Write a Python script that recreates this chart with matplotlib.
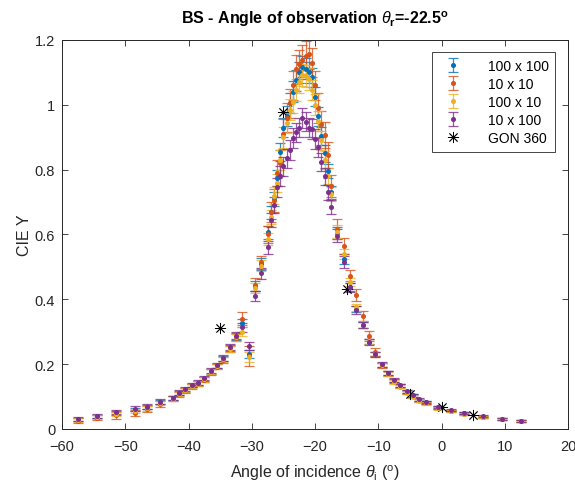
import matplotlib
matplotlib.use('agg')
import matplotlib.pyplot as plt

plt.rcParams['font.family'] = ['Liberation Sans', 'DejaVu Sans']
plt.rcParams['mathtext.fontset'] = 'custom'
plt.rcParams['mathtext.rm'] = 'Liberation Sans'
plt.rcParams['mathtext.it'] = 'Liberation Sans:italic'
plt.rcParams['mathtext.bf'] = 'Liberation Sans:bold'

# Angles of incidence (deg), shared by the four camera series
angles = [-57.5, -54.5, -51.5, -48.5, -46.5, -44.5,
          -42.5, -41.5, -40.5, -39.5, -38.5, -37.5, -36.5, -35.5,
          -34.5, -33.5, -32.5, -31.5, -30.5, -29.5, -28.5, -27.5,
          -27, -26.5, -26, -25.5, -25, -24.5, -24, -23.5, -23, -22.5,
          -22, -21.5, -21, -20.5, -20, -19.5, -19, -18.5, -18, -17.5,
          -16.5, -15.5, -14.5, -13.5, -12.5, -11.5, -10.5, -9.5, -8.5,
          -7.5, -6.5, -5.5, -4.5, -3.5, -2.5,
          -0.5, 1.5, 3.5, 6.5, 9.5, 12.5]

y_100x100 = [0.030, 0.039, 0.050, 0.060, 0.067, 0.082,
             0.095, 0.110, 0.121, 0.134, 0.141, 0.155, 0.178, 0.194,
             0.217, 0.250, 0.285, 0.328, 0.232, 0.440, 0.509, 0.607,
             0.668, 0.710, 0.775, 0.855, 0.930, 0.965, 1.005, 1.040, 1.075, 1.100,
             1.118, 1.112, 1.100, 1.085, 1.025, 0.964, 0.905, 0.850, 0.795, 0.730,
             0.605, 0.525, 0.437, 0.370, 0.321, 0.269, 0.231, 0.198, 0.173,
             0.149, 0.134, 0.115, 0.103, 0.090, 0.082,
             0.067, 0.057, 0.048, 0.038, 0.031, 0.025]
e_100x100 = [0.005, 0.005, 0.006, 0.006, 0.006, 0.006,
             0.006, 0.006, 0.006, 0.006, 0.006, 0.006, 0.007, 0.007,
             0.008, 0.008, 0.010, 0.012, 0.012, 0.015, 0.018, 0.020,
             0.020, 0.022, 0.025, 0.028, 0.030, 0.030, 0.030, 0.032, 0.032, 0.032,
             0.032, 0.032, 0.032, 0.030, 0.030, 0.030, 0.028, 0.025, 0.022, 0.020,
             0.018, 0.015, 0.012, 0.010, 0.009, 0.008, 0.007, 0.006, 0.006,
             0.005, 0.005, 0.005, 0.004, 0.004, 0.004,
             0.004, 0.003, 0.003, 0.003, 0.003, 0.003]

y_10x10 = [0.026, 0.035, 0.042, 0.050, 0.062, 0.077,
           0.093, 0.107, 0.119, 0.132, 0.140, 0.152, 0.176, 0.192,
           0.213, 0.247, 0.282, 0.340, 0.225, 0.445, 0.515, 0.600,
           0.669, 0.705, 0.790, 0.820, 0.910, 0.960, 1.005, 1.060, 1.110, 1.125,
           1.139, 1.152, 1.156, 1.130, 1.060, 0.990, 0.940, 0.907, 0.846, 0.750,
           0.617, 0.564, 0.473, 0.414, 0.348, 0.286, 0.237, 0.196, 0.171,
           0.147, 0.132, 0.113, 0.101, 0.088, 0.080,
           0.065, 0.056, 0.047, 0.037, 0.030, 0.024]
e_10x10 = [0.008, 0.008, 0.010, 0.010, 0.009, 0.009,
           0.008, 0.008, 0.008, 0.008, 0.008, 0.008, 0.008, 0.008,
           0.008, 0.009, 0.012, 0.020, 0.030, 0.020, 0.020, 0.025,
           0.030, 0.035, 0.040, 0.040, 0.045, 0.045, 0.045, 0.045, 0.045, 0.045,
           0.045, 0.045, 0.045, 0.045, 0.045, 0.045, 0.040, 0.040, 0.040, 0.035,
           0.030, 0.025, 0.018, 0.018, 0.016, 0.016, 0.012, 0.008, 0.007,
           0.006, 0.006, 0.005, 0.005, 0.004, 0.004,
           0.004, 0.004, 0.003, 0.003, 0.003, 0.003]

y_100x10 = [0.029, 0.037, 0.046, 0.055, 0.064, 0.080,
            0.094, 0.108, 0.120, 0.133, 0.140, 0.153, 0.177, 0.193,
            0.215, 0.248, 0.283, 0.300, 0.222, 0.435, 0.504, 0.586,
            0.655, 0.720, 0.760, 0.830, 0.900, 0.945, 0.985, 1.010, 1.045, 1.070,
            1.093, 1.090, 1.080, 1.046, 1.000, 0.950, 0.890, 0.830, 0.780, 0.725,
            0.608, 0.540, 0.453, 0.376, 0.322, 0.270, 0.230, 0.197, 0.170,
            0.146, 0.131, 0.112, 0.100, 0.087, 0.079,
            0.064, 0.055, 0.046, 0.037, 0.030, 0.024]
e_100x10 = [0.006, 0.006, 0.007, 0.007, 0.007, 0.007,
            0.007, 0.007, 0.007, 0.007, 0.007, 0.007, 0.007, 0.007,
            0.008, 0.009, 0.011, 0.014, 0.015, 0.016, 0.018, 0.020,
            0.022, 0.025, 0.028, 0.030, 0.032, 0.032, 0.032, 0.034, 0.034, 0.034,
            0.034, 0.034, 0.034, 0.032, 0.032, 0.030, 0.030, 0.028, 0.025, 0.022,
            0.020, 0.016, 0.013, 0.011, 0.010, 0.009, 0.008, 0.007, 0.006,
            0.006, 0.005, 0.005, 0.005, 0.004, 0.004,
            0.004, 0.003, 0.003, 0.003, 0.003, 0.003]

y_10x100 = [0.031, 0.040, 0.052, 0.063, 0.069, 0.084,
            0.096, 0.112, 0.123, 0.136, 0.143, 0.157, 0.180, 0.196,
            0.219, 0.252, 0.288, 0.314, 0.257, 0.410, 0.480, 0.561,
            0.645, 0.690, 0.745, 0.780, 0.810, 0.835, 0.861, 0.897, 0.915, 0.930,
            0.959, 0.948, 0.930, 0.925, 0.895, 0.869, 0.823, 0.780, 0.730, 0.685,
            0.596, 0.516, 0.437, 0.368, 0.320, 0.268, 0.231, 0.199, 0.174,
            0.150, 0.135, 0.116, 0.104, 0.091, 0.083,
            0.068, 0.058, 0.049, 0.039, 0.032, 0.026]
e_10x100 = [0.006, 0.006, 0.007, 0.007, 0.007, 0.007,
            0.007, 0.007, 0.007, 0.007, 0.007, 0.007, 0.007, 0.007,
            0.008, 0.009, 0.011, 0.014, 0.012, 0.015, 0.018, 0.020,
            0.022, 0.025, 0.028, 0.030, 0.030, 0.030, 0.030, 0.030, 0.030, 0.030,
            0.030, 0.030, 0.030, 0.030, 0.030, 0.030, 0.028, 0.026, 0.024, 0.022,
            0.020, 0.018, 0.014, 0.012, 0.010, 0.009, 0.008, 0.007, 0.006,
            0.006, 0.005, 0.005, 0.005, 0.004, 0.004,
            0.004, 0.003, 0.003, 0.003, 0.003, 0.003]

# goniometer reference
gon_angles = [-35, -25, -15, -5, 0, 5]
gon_y = [0.311, 0.977, 0.432, 0.108, 0.067, 0.044]

series = [
    ('100 x 100', y_100x100, e_100x100, '#0072BD'),
    ('10 x 10', y_10x10, e_10x10, '#D95319'),
    ('100 x 10', y_100x10, e_100x10, '#EDB120'),
    ('10 x 100', y_10x100, e_10x100, '#7E2F8E'),
]

fig = plt.figure(figsize=(5.75, 4.89), dpi=100)
ax = fig.add_axes([0.108, 0.1207, 0.880, 0.7955])

handles = []
for name, yy, ee, col in series:
    eb = ax.errorbar(angles, yy, yerr=ee, fmt='o', color=col, ms=2.6,
                     ecolor=col, elinewidth=0.9, capsize=3.8, capthick=0.9,
                     label=name)
    for ln in eb[1]:
        ln.set_alpha(0.8)
    for ln in eb[2]:
        ln.set_alpha(0.8)
    handles.append(eb)

star, = ax.plot(gon_angles, gon_y, linestyle='none', marker=(8, 2, 0), ms=8,
                mew=0.6, color='k', label='GON 360')
handles.append(star)

ax.set_xlim(-60, 20)
ax.set_ylim(0, 1.2)
ax.set_xticks(range(-60, 21, 10))
ax.set_yticks([0, 0.2, 0.4, 0.6, 0.8, 1.0, 1.2])
ax.set_yticklabels(['0', '0.2', '0.4', '0.6', '0.8', '1', '1.2'])
ax.tick_params(direction='in', top=True, right=True, length=4, width=0.6,
               labelsize=10.5, colors='#262626')
ax.tick_params(axis='x', pad=7)
ax.tick_params(axis='y', pad=5)
for sp in ax.spines.values():
    sp.set_color('#262626')
    sp.set_linewidth(0.7)

ax.set_xlabel(r'Angle of incidence $\theta_{\mathrm{i}}$ ($^{\mathrm{o}}$)',
              fontsize=11.5, color='#262626', labelpad=7)
ax.set_ylabel('CIE Y', fontsize=11.5, color='#262626', labelpad=2)
ax.set_title(r'BS - Angle of observation $\theta_{\mathbf{r}}$=-22.5$^{\mathbf{o}}$',
             fontsize=11.5, fontweight='bold', pad=12)

leg = ax.legend(handles=handles, labels=[h.get_label() for h in handles],
                loc='upper right', bbox_to_anchor=(0.975, 0.97),
                borderaxespad=0, fancybox=False, framealpha=1,
                edgecolor='#262626', fontsize=10, handlelength=2.0,
                handletextpad=1.5, labelspacing=0.3, borderpad=0.5)
leg.get_frame().set_linewidth(0.6)

fig.savefig('out.png', dpi=100)
